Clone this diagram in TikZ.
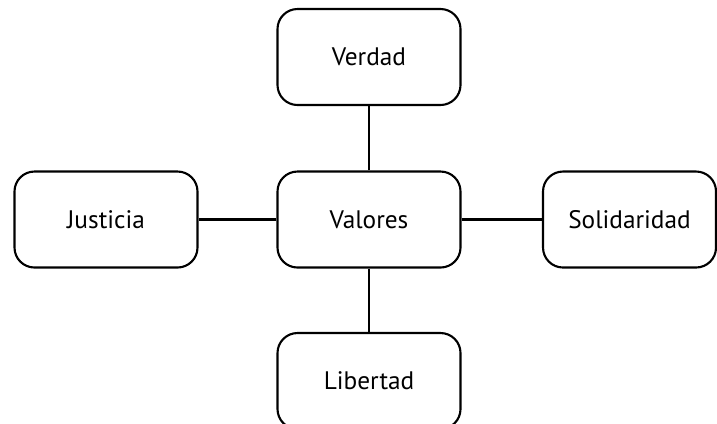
\documentclass[tikz,border=0pt]{standalone}
\usepackage{fontspec}
\setmainfont{PT Sans}
\usetikzlibrary{calc}

\begin{document}
\begin{tikzpicture}[caja/.style={draw, line width=0.6pt, rounded corners=0.2cm, minimum width=1.83cm, minimum height=0.96cm, inner sep=0pt, font=\fontsize{7.2}{8}\selectfont}]
				\useasboundingbox (0,0) rectangle (7.17,4.23);
				\coordinate (C) at (3.69,2.035);
				\coordinate (N) at (3.69,3.66);
				\coordinate (S) at (3.69,0.42);
				\coordinate (W) at (1.06,2.035);
				\coordinate (E) at (6.295,2.035);
				
				\node[caja] (valores) at (C) {Valores};
				\node[caja] (verdad) at (N) {Verdad};
				\node[caja] (libertad) at (S) {Libertad};
				\node[caja] (justicia) at (W) {Justicia};
				\node[caja, minimum width=1.73cm] (solidaridad) at (E) {Solidaridad};
				
				\foreach \x in {verdad,libertad,justicia,solidaridad}{
					\draw[line width=0.6pt] (valores) -- (\x);}
			\end{tikzpicture}
\end{document}
